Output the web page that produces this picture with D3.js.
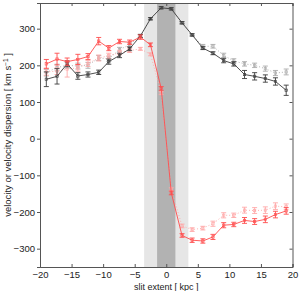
<!DOCTYPE html>
<html>
<head>
<meta charset="utf-8">
<script src="https://cdn.jsdelivr.net/npm/d3@7"></script>
<style>
  body { margin: 0; background: #fff; }
  text { font-family: "Liberation Sans", Arial, sans-serif; fill: #222; }
</style>
</head>
<body>
<svg width="300" height="291"></svg>
<script>
// slit positions (kpc)
var pos = [-19.0, -17.3, -15.7, -14.0, -12.4, -10.7, -9.1, -7.4, -5.8, -4.1, -2.5, -0.8,
           0.8, 2.5, 4.1, 5.8, 7.4, 9.1, 10.7, 12.4, 14.0, 15.7, 17.3, 19.0];

// dispersion, solid black + dotted grey
var sigma = [162, 170, 204, 171, 175, 181, 210, 227, 245, 280, 327, 357,
             354, 316, 283, 247, 233, 213, 204, 175, 170, 164, 156, 132];
var sigmaErr = [20, 21, 8, 9, 7, 6, 7, 6, 5, 4, 3, 3,
                3, 3, 3, 4, 4, 6, 6, 11, 10, 10, 10, 14];
var sigma2 = [180, 194, 200, 198, 200, 220, 218, 243, 256, 281, 327, 356,
              353, 316, 283, 252, 252, 227, 212, 204, 200, 191, 179, 182];
var sigma2Err = [9, 9, 8, 8, 8, 7, 7, 6, 5, 4, 3, 3,
                 3, 3, 3, 5, 5, 6, 6, 6, 6, 7, 7, 8];

// velocity, solid red + dotted pink
var vel = [204, 217, 210, 216, 224, 266, 247, 265, 263, 277, 256, 137,
           -148, -264, -277, -279, -268, -236, -234, -223, -226, -220, -207, -197];
var velErr = [12, 16, 10, 14, 8, 10, 7, 6, 6, 6, 5, 5,
              5, 5, 6, 6, 7, 7, 6, 8, 8, 9, 9, 9];
var vel2 = [182, 184, 190, 193, 205, 220, 226, 235, 240, 245, 230, 124,
            -138, -238, -248, -244, -232, -209, -209, -195, -196, -195, -184, -186];
var vel2Err = [9, 9, 22, 9, 8, 8, 7, 6, 5, 4, 4, 4,
               4, 5, 5, 5, 7, 7, 6, 8, 8, 9, 9, 8];

var xTicks = [-20, -15, -10, -5, 0, 5, 10, 15, 20];
var yTicks = [-300, -200, -100, 0, 100, 200, 300];

var svg = d3.select("svg");
var pL = 40, pR = 292.5, pT = 3, pB = 267;

var x = d3.scaleLinear().domain([-20, 20]).range([pL, pR]);
var y = d3.scaleLinear().domain([-350, 370]).range([pB, pT]);

// nuclear regions
svg.append("rect")
    .attr("x", x(-3.5)).attr("y", pT)
    .attr("width", x(3.5) - x(-3.5)).attr("height", pB - pT)
    .style("fill", "#e6e6e6");
svg.append("rect")
    .attr("x", x(-1.45)).attr("y", pT)
    .attr("width", x(1.45) - x(-1.45)).attr("height", pB - pT)
    .style("fill", "#b2b2b2");

function series(vals, errs, color, dashed) {
    var g = svg.append("g");
    var pts = pos.map(function(p, i) { return [p, vals[i], errs[i]]; });
    var line = d3.line()
        .x(function(d) { return x(d[0]); })
        .y(function(d) { return y(d[1]); });
    g.append("path")
        .datum(pts)
        .attr("d", line)
        .style("fill", "none")
        .style("stroke", color)
        .style("stroke-width", 0.9)
        .style("stroke-dasharray", dashed ? "1,2" : null);

    var bars = g.selectAll("g.eb").data(pts).enter()
        .append("g")
        .attr("transform", function(d) { return "translate(" + x(d[0]) + ",0)"; })
        .style("stroke", color)
        .style("stroke-width", 0.9);
    bars.append("line")
        .attr("x1", 0).attr("x2", 0)
        .attr("y1", function(d) { return y(d[1] - d[2]); })
        .attr("y2", function(d) { return y(d[1] + d[2]); });
    bars.append("line")
        .attr("x1", -2.5).attr("x2", 2.5)
        .attr("y1", function(d) { return y(d[1] - d[2]); })
        .attr("y2", function(d) { return y(d[1] - d[2]); });
    bars.append("line")
        .attr("x1", -2.5).attr("x2", 2.5)
        .attr("y1", function(d) { return y(d[1] + d[2]); })
        .attr("y2", function(d) { return y(d[1] + d[2]); });
    bars.append("rect")
        .attr("x", -1.2).attr("width", 2.4).attr("height", 2.4)
        .attr("y", function(d) { return y(d[1]) - 1.2; })
        .style("fill", "none")
        .style("stroke-width", 0.6);
}

series(sigma2, sigma2Err, "#ababab", true);
series(vel2, vel2Err, "#ffa8a8", true);
series(sigma, sigmaErr, "#3c3c3c", false);
series(vel, velErr, "#ff4d4d", false);

// axes box, MATLAB look
var axisColor = "#555";
var fmt = function(d) { return d < 0 ? "\u2212" + (-d) : d; };
svg.append("g").attr("transform", "translate(0," + pB + ")")
    .call(d3.axisBottom(x).tickValues(xTicks).tickSize(-3).tickPadding(4).tickFormat(fmt));
svg.append("g").attr("transform", "translate(0," + pT + ")")
    .call(d3.axisTop(x).tickValues(xTicks).tickSize(-3).tickFormat(""));
svg.append("g").attr("transform", "translate(" + pL + ",0)")
    .call(d3.axisLeft(y).tickValues(yTicks).tickSize(3).tickPadding(2).tickFormat(fmt));
svg.append("g").attr("transform", "translate(" + pR + ",0)")
    .call(d3.axisRight(y).tickValues(yTicks).tickSize(-3).tickFormat(""));

svg.selectAll(".domain").style("stroke", axisColor);
svg.selectAll(".tick line").style("stroke", axisColor);
svg.selectAll(".tick text")
    .style("font-family", "Liberation Sans, Arial, sans-serif")
    .style("font-size", "9.5px")
    .style("fill", "#222");

svg.append("text")
    .attr("x", x(0)).attr("y", 289.5)
    .attr("text-anchor", "middle")
    .style("font-size", "9px")
    .text("slit extent [ kpc ]");

var yl = svg.append("text")
    .attr("transform", "translate(11," + ((pT + pB) / 2) + ") rotate(-90)")
    .attr("text-anchor", "middle")
    .style("font-size", "9.5px");
yl.append("tspan").text("velocity or velocity dispersion [ km s");
yl.append("tspan").attr("dy", -3.5).style("font-size", "6.5px").text("\u22121");
yl.append("tspan").attr("dy", 3.5).text(" ]");
</script>
</body>
</html>
